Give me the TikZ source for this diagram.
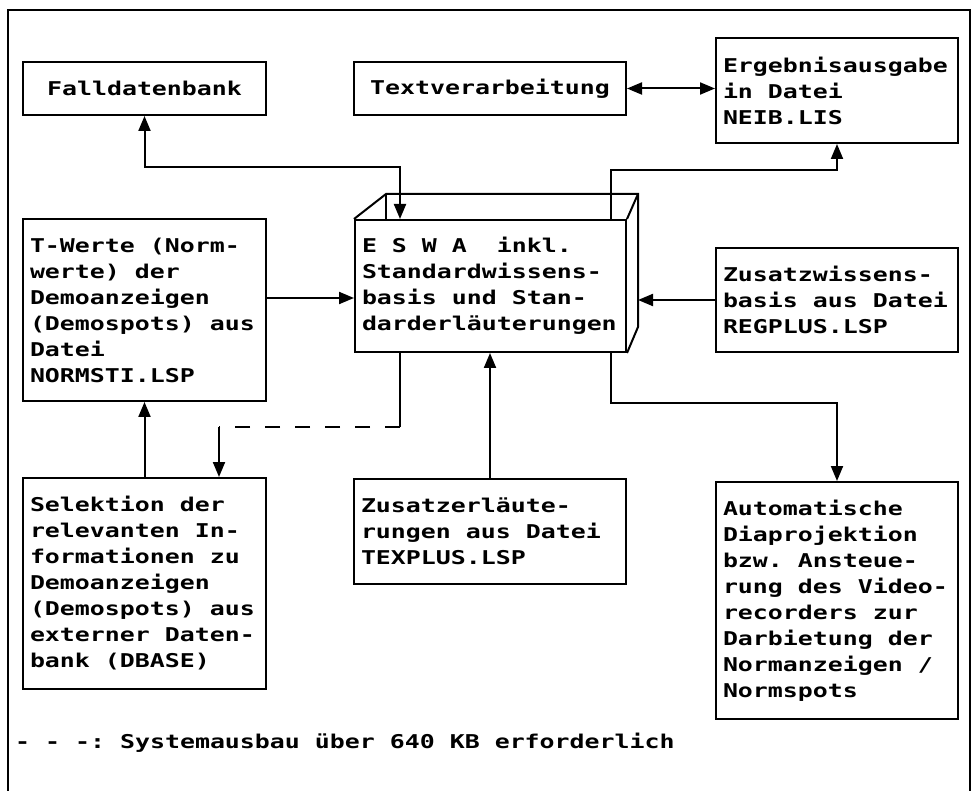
\documentclass[tikz,border=0pt]{standalone}
\usepackage{fontspec}
\usetikzlibrary{arrows.meta}
\newfontfamily\dotmono[FakeStretch=1.31]{DejaVu Sans Mono}
\newcommand{\boxfont}{\dotmono\bfseries\fontsize{19pt}{26pt}\selectfont\frenchspacing
  \fontdimen2\font=15pt\fontdimen3\font=0pt\fontdimen4\font=0pt
  \spaceskip=15pt\relax\xspaceskip=15pt\relax}

\begin{document}
\begin{tikzpicture}[
    x=1pt, y=-1pt,
    blk/.style={draw, line width=2pt, inner xsep=7pt, inner ysep=0pt, align=flush left, font=\boxfont},
    lbl/.style={draw, line width=2pt, inner sep=0pt, font=\boxfont},
    >={Triangle[length=15pt, width=12pt]},
    link/.style={line width=2pt}
  ]
  \useasboundingbox (0,0) rectangle (972,791);
  % Frame
  \draw[line width=1.5pt] (8,791) -- (8,10) -- (970,10) -- (970,791);
  % Top row
  \node[lbl, minimum width=243pt, minimum height=53pt] (fall) at (144.5,88.5) {Falldatenbank};
  \node[lbl, minimum width=272pt, minimum height=53pt] (textv) at (490,88.5) {Textverarbeitung};
  \node[blk, text width=228pt, minimum height=105pt] (ergeb) at (837,90.5)
       {Ergebnisausgabe\\in Datei\\NEIB.LIS};
  % Middle row
  \node[blk, text width=229pt, minimum height=182pt] (twert) at (144.5,310)
       {T-Werte (Norm-\\werte) der\\Demoanzeigen\\(Demospots) aus\\Datei\\NORMSTI.LSP};
  \node[blk, text width=257pt, minimum height=132pt] (eswa) at (490.5,286)
       {E S W A~ inkl.\\Standardwissens-\\basis und Stan-\\darderläuterungen};
  \node[blk, text width=228pt, minimum height=104pt] (zusw) at (837,300)
       {Zusatzwissens-\\basis aus Datei\\REGPLUS.LSP};
  % Bottom row
  \node[blk, text width=229pt, minimum height=211pt] (selekt) at (144.5,583.5)
       {Selektion der\\relevanten In-\\formationen zu\\Demoanzeigen\\(Demospots) aus\\externer Daten-\\bank (DBASE)};
  \node[blk, text width=258pt, minimum height=105pt] (texp) at (490,531.5)
       {Zusatzerläute-\\rungen aus Datei\\TEXPLUS.LSP};
  \node[blk, text width=228pt, minimum height=237pt] (autom) at (837,600.5)
       {Automatische\\Diaprojektion\\bzw. Ansteue-\\rung des Video-\\recorders zur\\Darbietung der\\Normanzeigen /\\Normspots};
  % Legend
  \node[anchor=base west, inner sep=0pt, font=\boxfont] (leg) at (15,748)
       {- - -: Systemausbau über 640 KB erforderlich};
  % ESWA as a box
  \coordinate (btl) at (386,194);
  \coordinate (btr) at (638,194);
  \coordinate (bbr) at (638,327);
  \draw[link] (eswa.north west) -- (btl) -- (btr) -- (bbr) -- (eswa.south east);
  \draw[link] (btl) -- (btl |- eswa.north);
  \draw[link] (eswa.north east) -- (btr);
  % Falldatenbank <-> ESWA
  \coordinate (kf) at (400,167);
  \draw[link, <->] (fall.south) |- (kf) -- (kf |- eswa.north);
  % Textverarbeitung <-> Ergebnisausgabe
  \draw[link, <->] (textv.east) -- (ergeb.west |- textv.east);
  % ESWA -> Ergebnisausgabe
  \coordinate (ke) at (611,170);
  \draw[link, ->] (ke |- eswa.north) -- (ke) -| (ergeb.south);
  % T-Werte -> ESWA
  \coordinate (kt) at (0,298);
  \draw[link, ->] (twert.east |- kt) -- (eswa.west |- kt);
  % Zusatzwissensbasis -> ESWA
  \draw[link, ->] (zusw.west) -- (zusw.west -| btr);
  % TEXPLUS -> ESWA
  \draw[link, ->] (texp.north) -- (texp.north |- eswa.south);
  % ESWA -> Automatische
  \coordinate (ka) at (611,403);
  \draw[link, ->] (ka |- eswa.south) -- (ka) -| (autom.north);
  % Selektion -> T-Werte
  \draw[link, ->] (selekt.north) -- (twert.south);
  % ESWA -> Selektion (dashed)
  \coordinate (kd) at (400,427);
  \coordinate (kl) at (219,427);
  \draw[link] (kd |- eswa.south) -- (kd);
  \draw[link, dash pattern=on 15pt off 15pt] (kd) -- (kl);
  \draw[link, ->] (kl) -- (kl |- selekt.north);
\end{tikzpicture}
\end{document}
